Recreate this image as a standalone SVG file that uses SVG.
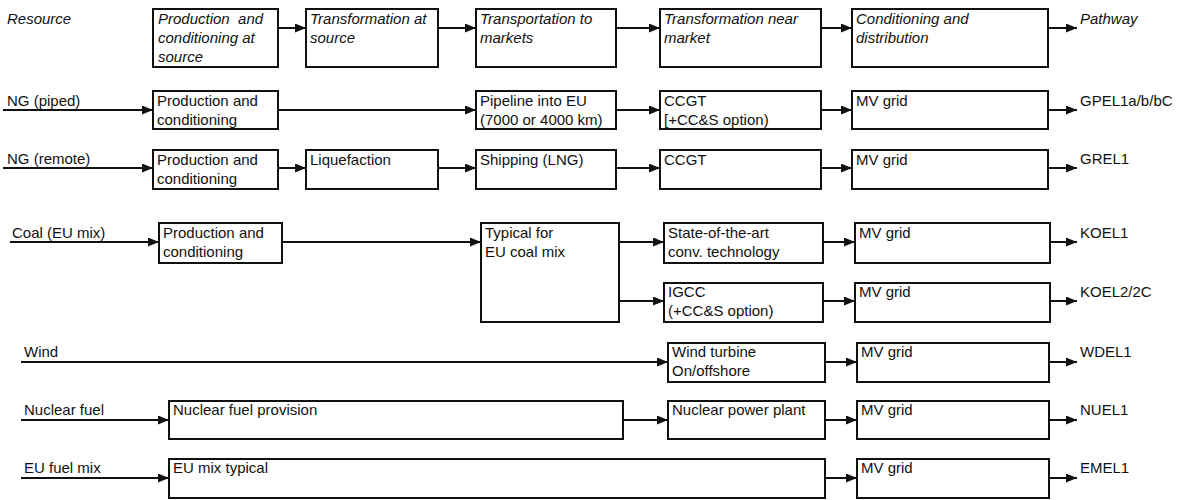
<svg xmlns="http://www.w3.org/2000/svg" width="1187" height="500" viewBox="0 0 1187 500">
<style>
text{font-family:"Liberation Sans",Arial,sans-serif;font-size:15px;fill:#111}
.it{font-style:italic}
.box rect{fill:#fff;stroke:#111;stroke-width:2}
#connectors line{stroke:#111;stroke-width:2;marker-end:url(#ah)}
</style>
<defs>
<marker id="ah" markerUnits="userSpaceOnUse" markerWidth="11" markerHeight="10" refX="11" refY="4.5" orient="auto">
<path d="M0,0 L11,4.5 L0,9 z" fill="#111"/>
</marker>
</defs>
<rect width="1187" height="500" fill="#fff"/>

<g id="connectors">
<line x1="278" y1="28" x2="306" y2="28"/>
<line x1="438" y1="28" x2="476" y2="28"/>
<line x1="616" y1="28" x2="660" y2="28"/>
<line x1="821" y1="28" x2="852" y2="28"/>
<line x1="1048" y1="28" x2="1077" y2="28"/>

<line x1="3" y1="110" x2="153" y2="110"/>
<line x1="278" y1="110" x2="476" y2="110"/>
<line x1="616" y1="110" x2="660" y2="110"/>
<line x1="821" y1="110" x2="852" y2="110"/>
<line x1="1048" y1="110" x2="1077" y2="110"/>

<line x1="3" y1="168" x2="153" y2="168"/>
<line x1="278" y1="168" x2="306" y2="168"/>
<line x1="438" y1="168" x2="476" y2="168"/>
<line x1="616" y1="168" x2="660" y2="168"/>
<line x1="821" y1="168" x2="852" y2="168"/>
<line x1="1048" y1="168" x2="1077" y2="168"/>

<line x1="10" y1="242" x2="159" y2="242"/>
<line x1="282" y1="242" x2="481" y2="242"/>
<line x1="619" y1="242" x2="664" y2="242"/>
<line x1="619" y1="301" x2="664" y2="301"/>
<line x1="823" y1="242" x2="855" y2="242"/>
<line x1="823" y1="301" x2="855" y2="301"/>
<line x1="1050" y1="242" x2="1077" y2="242"/>
<line x1="1050" y1="301" x2="1077" y2="301"/>

<line x1="21" y1="362" x2="668" y2="362"/>
<line x1="825" y1="362" x2="857" y2="362"/>
<line x1="1049" y1="362" x2="1077" y2="362"/>

<line x1="21" y1="420" x2="169" y2="420"/>
<line x1="623" y1="420" x2="668" y2="420"/>
<line x1="825" y1="420" x2="857" y2="420"/>
<line x1="1049" y1="420" x2="1077" y2="420"/>

<line x1="21" y1="478" x2="169" y2="478"/>
<line x1="825" y1="478" x2="857" y2="478"/>
<line x1="1049" y1="478" x2="1077" y2="478"/>
</g>

<g id="labels">
<text class="it" x="7" y="24">Resource</text>
<text class="it" x="1080" y="24">Pathway</text>
<text x="7" y="106">NG (piped)</text>
<text x="7" y="164">NG (remote)</text>
<text x="12" y="238">Coal (EU mix)</text>
<text x="24" y="357">Wind</text>
<text x="24" y="415">Nuclear fuel</text>
<text x="24" y="473">EU fuel mix</text>
<text x="1080" y="106">GPEL1a/b/bC</text>
<text x="1080" y="164">GREL1</text>
<text x="1080" y="238">KOEL1</text>
<text x="1080" y="297">KOEL2/2C</text>
<text x="1080" y="357">WDEL1</text>
<text x="1080" y="415">NUEL1</text>
<text x="1080" y="473">EMEL1</text>
</g>

<g id="h1" class="box"><rect x="153" y="9" width="125" height="58"/><text class="it" x="158" y="24" xml:space="preserve">Production  and</text><text class="it" x="158" y="43">conditioning at</text><text class="it" x="158" y="62">source</text></g>
<g id="h2" class="box"><rect x="306" y="9" width="132" height="58"/><text class="it" x="310" y="24">Transformation at</text><text class="it" x="310" y="43">source</text></g>
<g id="h3" class="box"><rect x="476" y="9" width="140" height="58"/><text class="it" x="480" y="24">Transportation to</text><text class="it" x="480" y="43">markets</text></g>
<g id="h4" class="box"><rect x="660" y="9" width="161" height="58"/><text class="it" x="664" y="24">Transformation near</text><text class="it" x="664" y="43">market</text></g>
<g id="h5" class="box"><rect x="852" y="9" width="196" height="58"/><text class="it" x="856" y="24">Conditioning and</text><text class="it" x="856" y="43">distribution</text></g>

<g id="p-prod" class="box"><rect x="153" y="91" width="125" height="38"/><text x="157" y="106">Production and</text><text x="157" y="125">conditioning</text></g>
<g id="p-pipe" class="box"><rect x="476" y="91" width="140" height="38"/><text x="480" y="106">Pipeline into EU</text><text x="480" y="125">(7000 or 4000 km)</text></g>
<g id="p-ccgt" class="box"><rect x="660" y="91" width="161" height="38"/><text x="664" y="106">CCGT</text><text x="664" y="125">[+CC&amp;S option)</text></g>
<g id="p-mv" class="box"><rect x="852" y="91" width="196" height="38"/><text x="856" y="106">MV grid</text></g>

<g id="r-prod" class="box"><rect x="153" y="150" width="125" height="39"/><text x="157" y="165">Production and</text><text x="157" y="184">conditioning</text></g>
<g id="r-liq" class="box"><rect x="306" y="150" width="132" height="39"/><text x="310" y="165">Liquefaction</text></g>
<g id="r-ship" class="box"><rect x="476" y="150" width="140" height="39"/><text x="480" y="165">Shipping (LNG)</text></g>
<g id="r-ccgt" class="box"><rect x="660" y="150" width="161" height="39"/><text x="664" y="165">CCGT</text></g>
<g id="r-mv" class="box"><rect x="852" y="150" width="196" height="39"/><text x="856" y="165">MV grid</text></g>

<g id="c-prod" class="box"><rect x="159" y="223" width="123" height="40"/><text x="163" y="238">Production and</text><text x="163" y="257">conditioning</text></g>
<g id="c-typ" class="box"><rect x="481" y="223" width="138" height="99"/><text x="485" y="238">Typical for</text><text x="485" y="257">EU coal mix</text></g>
<g id="c-sota" class="box"><rect x="664" y="223" width="159" height="40"/><text x="668" y="238">State-of-the-art</text><text x="668" y="257">conv. technology</text></g>
<g id="c-igcc" class="box"><rect x="664" y="283" width="159" height="39"/><text x="668" y="297">IGCC</text><text x="668" y="316">(+CC&amp;S option)</text></g>
<g id="c-mv1" class="box"><rect x="855" y="223" width="195" height="40"/><text x="859" y="238">MV grid</text></g>
<g id="c-mv2" class="box"><rect x="855" y="283" width="195" height="39"/><text x="859" y="297">MV grid</text></g>

<g id="w-turb" class="box"><rect x="668" y="343" width="157" height="39"/><text x="672" y="357">Wind turbine</text><text x="672" y="376">On/offshore</text></g>
<g id="w-mv" class="box"><rect x="857" y="343" width="192" height="39"/><text x="861" y="357">MV grid</text></g>

<g id="n-prov" class="box"><rect x="169" y="401" width="454" height="38"/><text x="173" y="415">Nuclear fuel provision</text></g>
<g id="n-npp" class="box"><rect x="668" y="401" width="157" height="38"/><text x="672" y="415">Nuclear power plant</text></g>
<g id="n-mv" class="box"><rect x="857" y="401" width="192" height="38"/><text x="861" y="415">MV grid</text></g>

<g id="e-mix" class="box"><rect x="169" y="459" width="656" height="39"/><text x="173" y="473">EU mix typical</text></g>
<g id="e-mv" class="box"><rect x="857" y="459" width="192" height="39"/><text x="861" y="473">MV grid</text></g>
</svg>
